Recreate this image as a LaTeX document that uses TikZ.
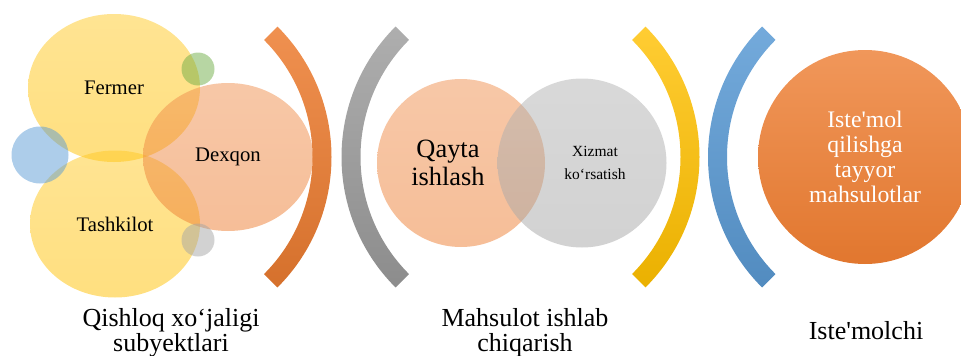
\documentclass[tikz,border=0pt]{standalone}
\usepackage{fontspec}
\setmainfont{Liberation Serif}
\newcommand\apos{{\addfontfeature{Ligatures=TeXOff}'}}
\usetikzlibrary{shapes.geometric}

\definecolor{cOrange}{HTML}{ED7D31}
\definecolor{cYellow}{HTML}{FFC000}
\definecolor{cGray}{HTML}{A5A5A5}
\definecolor{cBlue}{HTML}{5B9BD5}
\definecolor{cGreen}{HTML}{70AD47}

\begin{document}
\begin{tikzpicture}[x=1pt,y=-1pt]
    \tikzstyle{blob}=[ellipse, inner sep=0pt, fill opacity=0.5, text opacity=1]
    \tikzstyle{small}=[font=\fontsize{20.7}{24}\selectfont]
    \tikzstyle{lbl}=[align=center, inner sep=0pt, font=\fontsize{26}{25.6}\selectfont]
    \useasboundingbox (0,0) rectangle (961,356);

    % subjects
    \node [blob, small, minimum width=172, minimum height=148, top color=cYellow!85!white, bottom color=cYellow] (F) at (114,88) {Fermer};
    \node [blob, small, minimum width=170, minimum height=147, top color=cYellow!85!white, bottom color=cYellow] (T) at (115,224) {Tashkilot};
    \node [blob, small, minimum width=170, minimum height=148, top color=cOrange!85!white, bottom color=cOrange] (D) at (228,157) {Dexqon};
    \node [blob, minimum size=33, fill=cGreen] (g) at (198,69) {};
    \node [blob, minimum size=57, fill=cBlue] (b) at (40,155) {};
    \node [blob, minimum size=33, fill=cGray] (s) at (198,240) {};

    % brackets
    \shade [top color=cOrange!85!white, bottom color=cOrange!90!black, shift={(147,157)}]
        (45:184.5) arc [start angle=45, end angle=-45, radius=184.5] -- (-45:165.5) arc [start angle=-45, end angle=45, radius=165.5] -- cycle;
    \shade [top color=cGray!90!white, bottom color=cGray!85!black, shift={(526,157)}]
        (135:184.5) arc [start angle=135, end angle=225, radius=184.5] -- (225:165.5) arc [start angle=225, end angle=135, radius=165.5] -- cycle;
    \shade [top color=cYellow!80!white, bottom color=cYellow!92!black, shift={(515,157)}]
        (45:184.5) arc [start angle=45, end angle=-45, radius=184.5] -- (-45:165.5) arc [start angle=-45, end angle=45, radius=165.5] -- cycle;
    \shade [top color=cBlue!85!white, bottom color=cBlue!90!black, shift={(892.5,157)}]
        (135:184.5) arc [start angle=135, end angle=225, radius=184.5] -- (225:165.5) arc [start angle=225, end angle=135, radius=165.5] -- cycle;

    % production
    \node [blob, minimum size=168, top color=cOrange!85!white, bottom color=cOrange] (Q) at (461,163) {};
    \node [blob, minimum size=169, top color=cGray!85!white, bottom color=cGray] (X) at (582,163) {};
    \node [align=center, inner sep=0pt, font=\fontsize{26.4}{28}\selectfont] (Qt) at ([xshift=-13]Q) {Qayta\\ishlash};
    \node [align=center, inner sep=0pt, font=\fontsize{15.5}{22.6}\selectfont] (Xt) at ([xshift=13]X) {Xizmat\\ko‘rsatish};

    % consumer
    \node [circle, inner sep=0pt, minimum size=214, top color=cOrange!80!white, bottom color=cOrange!95!black,
           text=white, align=center, font=\fontsize{23.7}{24.8}\selectfont] (C) at (865,157) {Iste\apos mol\\qilishga\\tayyor\\mahsulotlar};

    \node [lbl] (L1) at (171,332.8) {Qishloq xo‘jaligi\\subyektlari};
    \node [lbl] (L2) at (525,332.8) {Mahsulot ishlab\\chiqarish};
    \node [lbl, anchor=base] (L3) at (866,339.3) {Iste\apos molchi};
\end{tikzpicture}
\end{document}
